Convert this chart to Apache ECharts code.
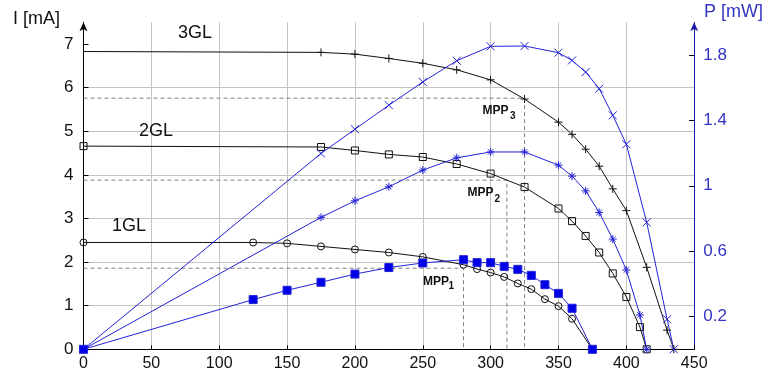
<!DOCTYPE html>
<html>
<head>
<meta charset="utf-8">
<script src="https://cdn.jsdelivr.net/npm/echarts@6/dist/echarts.min.js"></script>
<style>
html,body{margin:0;padding:0;background:#fff;}
#chart{width:774px;height:383px;}
</style>
</head>
<body>
<div id="chart"></div>
<script>
// ---- data (voltage in mV, current in mA, power in mW) ----
const V3 = [0, 175, 200, 225, 250, 275, 300, 325, 350, 360, 370, 380, 390, 400, 415, 430, 435];
const I3 = [6.83, 6.81, 6.77, 6.67, 6.56, 6.41, 6.18, 5.74, 5.21, 4.93, 4.59, 4.20, 3.68, 3.18, 1.88, 0.44, 0];
const P3 = [0, 1.198, 1.346, 1.493, 1.635, 1.765, 1.853, 1.855, 1.814, 1.767, 1.696, 1.594, 1.431, 1.254, 0.776, 0.184, 0];

const V2 = [0, 175, 200, 225, 250, 275, 300, 325, 350, 360, 370, 380, 390, 400, 410, 415];
const I2 = [4.66, 4.64, 4.56, 4.47, 4.41, 4.25, 4.03, 3.72, 3.23, 2.94, 2.60, 2.22, 1.74, 1.20, 0.51, 0];
const P2 = [0, 0.807, 0.908, 0.994, 1.096, 1.171, 1.207, 1.207, 1.126, 1.059, 0.969, 0.837, 0.674, 0.485, 0.21, 0];

const V1 = [0, 125, 150, 175, 200, 225, 250, 280, 290, 300, 310, 320, 330, 340, 350, 360, 375];
const I1 = [2.45, 2.45, 2.43, 2.36, 2.29, 2.22, 2.12, 1.94, 1.84, 1.76, 1.66, 1.51, 1.38, 1.15, 0.99, 0.70, 0];
const P1 = [0, 0.304, 0.361, 0.41, 0.46, 0.50, 0.528, 0.548, 0.53, 0.53, 0.507, 0.489, 0.452, 0.395, 0.342, 0.251, 0];

// maximum power points (V, I)
const MPP_V = [280, 312, 325];
const MPP_I = [1.86, 3.88, 5.76];

const xTicks = [0, 50, 100, 150, 200, 250, 300, 350, 400, 450];
const leftTicks = [0, 1, 2, 3, 4, 5, 6, 7];
const rightTicks = [0.2, 0.6, 1, 1.4, 1.8];

// ---- styles ----
const FONT = '"Liberation Sans", Arial, sans-serif';
const BLACK = '#111';
const BLUE = '#2323d6';
const BLUE_AXIS = '#1c1ca8';
const BLUE_TEXT = '#3434c4';
const GRID = '#c4c4c4';

const PLUS = 'path://M5 0 L5 10 M0 5 L10 5';
const CROSS = 'path://M0 0 L10 10 M10 0 L0 10';
const STAR = 'path://M5 0 L5 10 M0 5 L10 5 M1.6 1.6 L8.4 8.4 M8.4 1.6 L1.6 8.4';

function pairs(xs, ys) { return xs.map((x, i) => [x, ys[i]]); }

function curve(xs, ys, axis, color, symbol, size, fill, hideFirst) {
  const data = pairs(xs, ys).map((p, i) => (hideFirst && i === 0) ? { value: p, symbol: 'none' } : p);
  return {
    type: 'line', yAxisIndex: axis, data: data,
    symbol: symbol, symbolSize: size, showSymbol: true,
    lineStyle: { color: color, width: 1 },
    itemStyle: { color: fill, borderColor: color, borderWidth: 1 },
    emphasis: { disabled: true }, z: 3
  };
}

const series = [];
// MPP dashed guides
MPP_V.forEach((v, i) => {
  series.push({
    type: 'line', yAxisIndex: 0, symbol: 'none',
    data: [[0, MPP_I[i]], [v, MPP_I[i]], [v, 0]],
    lineStyle: { color: '#808080', width: 1, type: [4, 3] },
    emphasis: { disabled: true }, z: 2
  });
});
series.push(curve(V1, I1, 0, BLACK, 'circle', 7, 'rgba(0,0,0,0)'));
series.push(curve(V2, I2, 0, BLACK, 'rect', 7, 'rgba(0,0,0,0)'));
series.push(curve(V3, I3, 0, BLACK, PLUS, 8, 'rgba(0,0,0,0)', true));
series.push(curve(V3, P3, 1, BLUE, CROSS, 8, 'rgba(0,0,0,0)'));
series.push(curve(V2, P2, 1, BLUE, STAR, 8, 'rgba(0,0,0,0)'));
series.push(curve(V1, P1, 1, BLUE, 'rect', 8, '#0000e6'));

function txt(x, y, text, font, color) {
  return { type: 'text', x: x, y: y, z: 10,
    style: { text: text, font: font, fill: color, verticalAlign: 'middle', align: 'left' } };
}

const chart = echarts.init(document.getElementById('chart'), null, { renderer: 'canvas' });
chart.setOption({
  animation: false,
  backgroundColor: '#fff',
  grid: { left: 83.5, right: 79.8, top: 22.3, bottom: 33.7, containLabel: false },
  xAxis: {
    type: 'value', min: 0, max: 450, interval: 50,
    axisLine: { show: true, lineStyle: { color: '#000', width: 1 } },
    axisTick: { show: true, inside: true, length: 4, lineStyle: { color: '#000' } },
    axisLabel: { color: BLACK, fontSize: 16, fontFamily: FONT, margin: 6,
      customValues: xTicks },
    splitLine: { show: true, lineStyle: { color: GRID, width: 1 } }
  },
  yAxis: [
    {
      type: 'value', position: 'left', min: 0, max: 7.5, interval: 1,
      axisLine: { show: true, onZero: false, symbol: ['none', 'arrow'], symbolSize: [6, 9],
        lineStyle: { color: '#000', width: 1 } },
      axisTick: { show: true, inside: true, length: 5, lineStyle: { color: '#000' },
        customValues: leftTicks },
      axisLabel: { color: BLACK, fontSize: 17, fontFamily: FONT, margin: 10,
        customValues: leftTicks,
        formatter: v => (Number.isInteger(v) ? String(v) : '') },
      splitLine: { show: true, showMaxLine: false, lineStyle: { color: GRID, width: 1 } }
    },
    {
      type: 'value', position: 'right', min: 0, max: 2,
      axisLine: { show: true, onZero: false, symbol: ['none', 'arrow'], symbolSize: [6, 9],
        lineStyle: { color: BLUE_AXIS, width: 1 } },
      axisTick: { show: true, inside: true, length: 5, lineStyle: { color: '#000' },
        customValues: rightTicks },
      axisLabel: { color: BLUE_TEXT, fontSize: 17, fontFamily: FONT, margin: 9,
        customValues: rightTicks,
        formatter: v => String(Math.round(v * 10) / 10) },
      splitLine: { show: false }
    }
  ],
  series: series,
  graphic: [
    txt(13, 19.5, 'I [mA]', '18px ' + FONT, BLACK),
    txt(704, 12, 'P [mW]', '18px ' + FONT, BLUE_TEXT),
    txt(178, 33.3, '3GL', '18px ' + FONT, BLACK),
    txt(139, 131.3, '2GL', '18px ' + FONT, BLACK),
    txt(112, 226, '1GL', '18px ' + FONT, BLACK),
    txt(482.5, 110.5, 'MPP', 'bold 12px ' + FONT, BLACK),
    txt(510, 116.5, '3', 'bold 10px ' + FONT, BLACK),
    txt(467.5, 193, 'MPP', 'bold 12px ' + FONT, BLACK),
    txt(494.5, 199.3, '2', 'bold 10px ' + FONT, BLACK),
    txt(423, 281.2, 'MPP', 'bold 12px ' + FONT, BLACK),
    txt(448.5, 286.7, '1', 'bold 10px ' + FONT, BLACK)
  ]
});
</script>
</body>
</html>
